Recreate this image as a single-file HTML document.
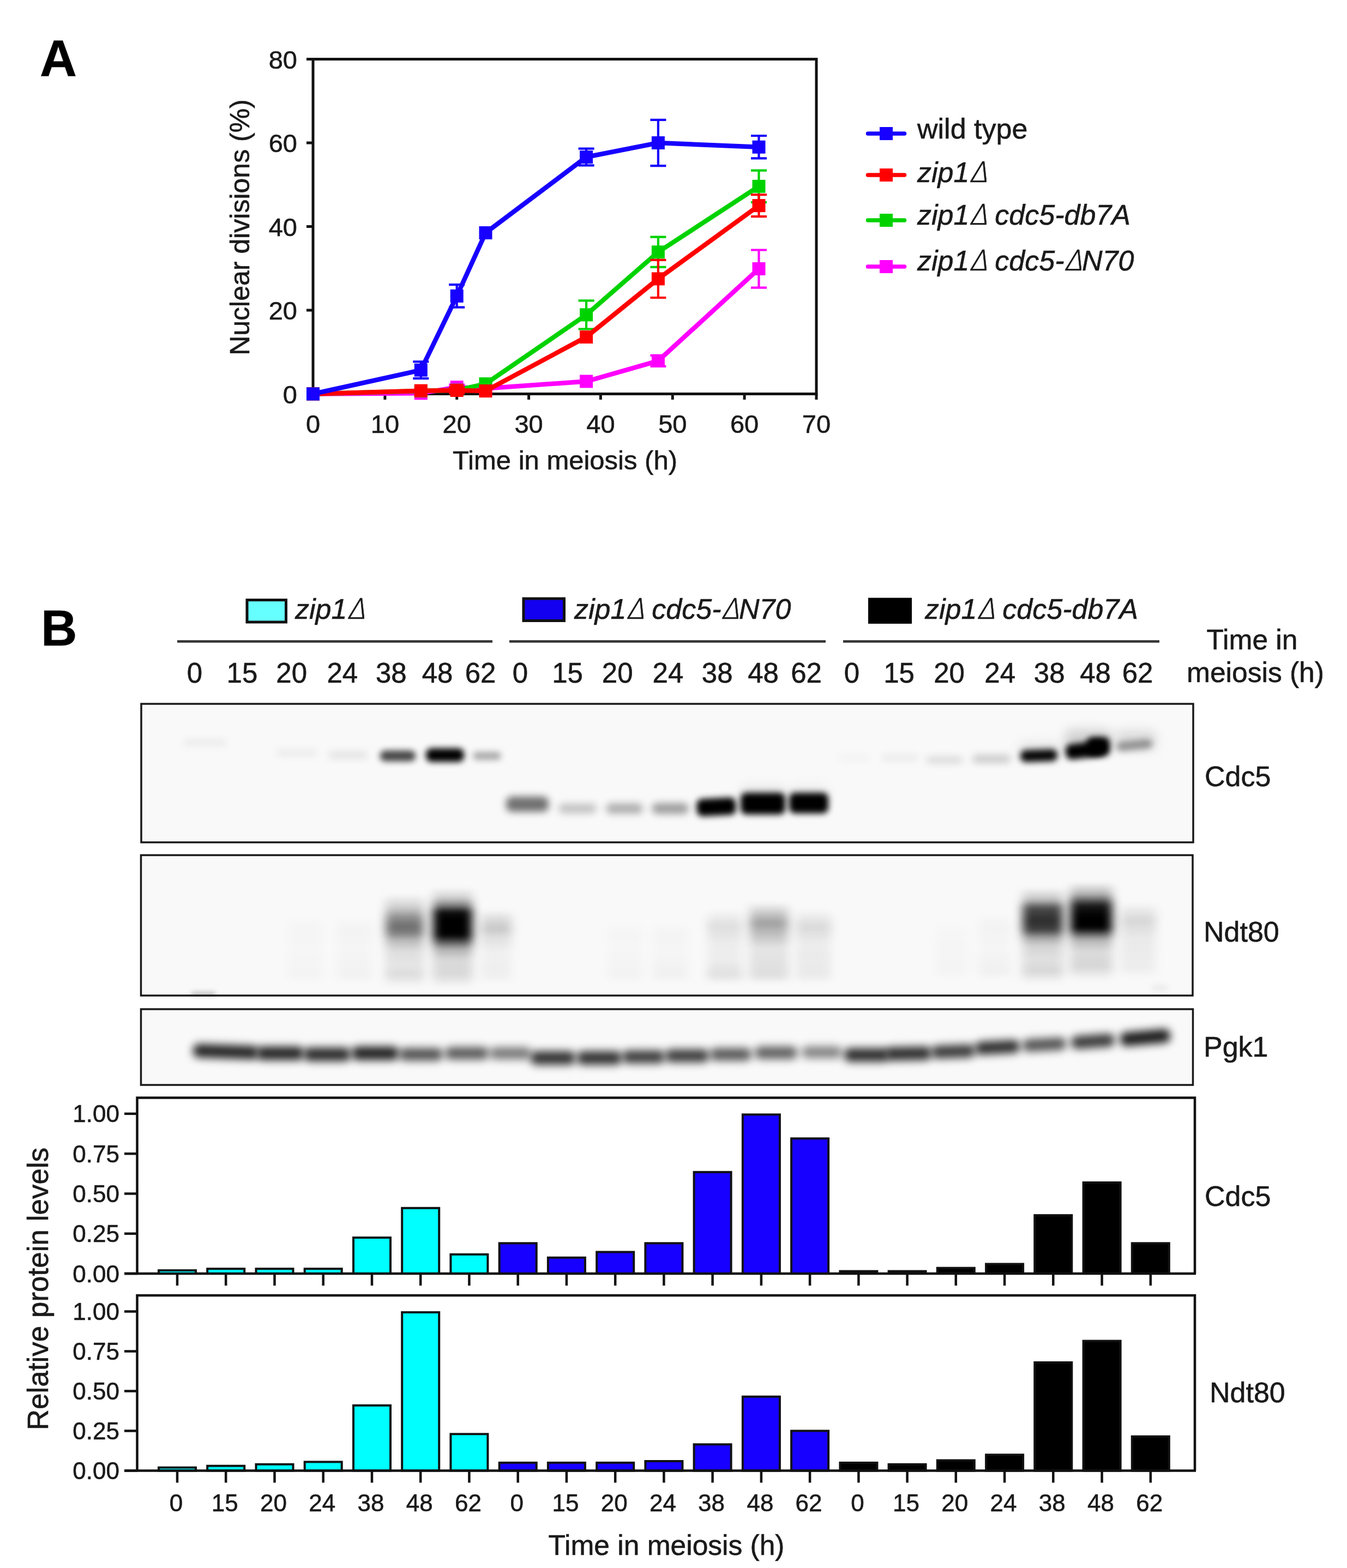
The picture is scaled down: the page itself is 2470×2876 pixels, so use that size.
<!DOCTYPE html>
<html><head><meta charset="utf-8"><title>Figure</title>
<style>
html,body{margin:0;padding:0;background:#fff;}
body{width:2470px;height:2876px;overflow:hidden;}
svg{display:block;}
text{font-family:'Liberation Sans', Arial, Helvetica, sans-serif;stroke:#1a1a1a;stroke-width:0.6px;}
</style></head>
<body>
<svg width="2470" height="2876" viewBox="0 0 2470 2876">
<rect width="2470" height="2876" fill="#fff"/>
<defs>
<clipPath id="clipA"><rect x="559" y="88.5" width="953" height="649"/></clipPath>
<filter id="b1" x="-50%" y="-150%" width="200%" height="400%"><feGaussianBlur stdDeviation="1"/></filter>
<filter id="b2" x="-50%" y="-150%" width="200%" height="400%"><feGaussianBlur stdDeviation="2"/></filter>
<filter id="b3" x="-50%" y="-150%" width="200%" height="400%"><feGaussianBlur stdDeviation="3"/></filter>
<filter id="b4" x="-50%" y="-150%" width="200%" height="400%"><feGaussianBlur stdDeviation="4"/></filter>
<filter id="b5" x="-50%" y="-150%" width="200%" height="400%"><feGaussianBlur stdDeviation="5"/></filter>
<filter id="b6" x="-50%" y="-150%" width="200%" height="400%"><feGaussianBlur stdDeviation="6"/></filter>
<filter id="b7" x="-50%" y="-150%" width="200%" height="400%"><feGaussianBlur stdDeviation="7"/></filter>
<filter id="b8" x="-50%" y="-150%" width="200%" height="400%"><feGaussianBlur stdDeviation="8"/></filter>
<filter id="b9" x="-50%" y="-150%" width="200%" height="400%"><feGaussianBlur stdDeviation="9"/></filter>
<filter id="b10" x="-50%" y="-150%" width="200%" height="400%"><feGaussianBlur stdDeviation="10"/></filter>
<filter id="b11" x="-50%" y="-150%" width="200%" height="400%"><feGaussianBlur stdDeviation="11"/></filter>
<filter id="b12" x="-50%" y="-150%" width="200%" height="400%"><feGaussianBlur stdDeviation="12"/></filter>
<filter id="bx" x="-50%" y="-20%" width="200%" height="140%"><feGaussianBlur stdDeviation="9 4"/></filter>
<linearGradient id="nd0" x1="0" y1="0" x2="0" y2="1"><stop offset="0.0000" stop-color="#000" stop-opacity="0.000"/><stop offset="0.2000" stop-color="#000" stop-opacity="0.018"/><stop offset="0.4800" stop-color="#000" stop-opacity="0.012"/><stop offset="0.8640" stop-color="#000" stop-opacity="0.020"/><stop offset="1.0000" stop-color="#000" stop-opacity="0.000"/></linearGradient>
<linearGradient id="nd1" x1="0" y1="0" x2="0" y2="1"><stop offset="0.0000" stop-color="#000" stop-opacity="0.000"/><stop offset="0.2000" stop-color="#000" stop-opacity="0.025"/><stop offset="0.4800" stop-color="#000" stop-opacity="0.015"/><stop offset="0.8640" stop-color="#000" stop-opacity="0.030"/><stop offset="1.0000" stop-color="#000" stop-opacity="0.000"/></linearGradient>
<linearGradient id="nd2" x1="0" y1="0" x2="0" y2="1"><stop offset="0.0000" stop-color="#000" stop-opacity="0.000"/><stop offset="0.1453" stop-color="#000" stop-opacity="0.180"/><stop offset="0.2616" stop-color="#000" stop-opacity="0.450"/><stop offset="0.3488" stop-color="#000" stop-opacity="0.560"/><stop offset="0.4186" stop-color="#000" stop-opacity="0.480"/><stop offset="0.4942" stop-color="#000" stop-opacity="0.250"/><stop offset="0.6105" stop-color="#000" stop-opacity="0.110"/><stop offset="0.7558" stop-color="#000" stop-opacity="0.080"/><stop offset="0.8605" stop-color="#000" stop-opacity="0.120"/><stop offset="0.9302" stop-color="#000" stop-opacity="0.050"/><stop offset="1.0000" stop-color="#000" stop-opacity="0.000"/></linearGradient>
<linearGradient id="nd3" x1="0" y1="0" x2="0" y2="1"><stop offset="0.0000" stop-color="#000" stop-opacity="0.000"/><stop offset="0.1087" stop-color="#000" stop-opacity="0.180"/><stop offset="0.1902" stop-color="#000" stop-opacity="0.550"/><stop offset="0.2446" stop-color="#000" stop-opacity="0.950"/><stop offset="0.3098" stop-color="#000" stop-opacity="1.000"/><stop offset="0.4728" stop-color="#000" stop-opacity="1.000"/><stop offset="0.5326" stop-color="#000" stop-opacity="0.700"/><stop offset="0.6087" stop-color="#000" stop-opacity="0.300"/><stop offset="0.7174" stop-color="#000" stop-opacity="0.130"/><stop offset="0.8696" stop-color="#000" stop-opacity="0.130"/><stop offset="0.9348" stop-color="#000" stop-opacity="0.060"/><stop offset="1.0000" stop-color="#000" stop-opacity="0.000"/></linearGradient>
<linearGradient id="nd4" x1="0" y1="0" x2="0" y2="1"><stop offset="0.0000" stop-color="#000" stop-opacity="0.000"/><stop offset="0.1460" stop-color="#000" stop-opacity="0.130"/><stop offset="0.2628" stop-color="#000" stop-opacity="0.200"/><stop offset="0.3796" stop-color="#000" stop-opacity="0.100"/><stop offset="0.5620" stop-color="#000" stop-opacity="0.035"/><stop offset="0.8759" stop-color="#000" stop-opacity="0.040"/><stop offset="1.0000" stop-color="#000" stop-opacity="0.000"/></linearGradient>
<linearGradient id="nd5" x1="0" y1="0" x2="0" y2="1"><stop offset="0.0000" stop-color="#000" stop-opacity="0.000"/><stop offset="0.1913" stop-color="#000" stop-opacity="0.015"/><stop offset="0.4348" stop-color="#000" stop-opacity="0.012"/><stop offset="0.8522" stop-color="#000" stop-opacity="0.025"/><stop offset="1.0000" stop-color="#000" stop-opacity="0.000"/></linearGradient>
<linearGradient id="nd6" x1="0" y1="0" x2="0" y2="1"><stop offset="0.0000" stop-color="#000" stop-opacity="0.000"/><stop offset="0.1913" stop-color="#000" stop-opacity="0.020"/><stop offset="0.5217" stop-color="#000" stop-opacity="0.015"/><stop offset="0.8522" stop-color="#000" stop-opacity="0.035"/><stop offset="1.0000" stop-color="#000" stop-opacity="0.000"/></linearGradient>
<linearGradient id="nd7" x1="0" y1="0" x2="0" y2="1"><stop offset="0.0000" stop-color="#000" stop-opacity="0.000"/><stop offset="0.2263" stop-color="#000" stop-opacity="0.110"/><stop offset="0.4526" stop-color="#000" stop-opacity="0.050"/><stop offset="0.6715" stop-color="#000" stop-opacity="0.045"/><stop offset="0.8759" stop-color="#000" stop-opacity="0.100"/><stop offset="1.0000" stop-color="#000" stop-opacity="0.000"/></linearGradient>
<linearGradient id="nd8" x1="0" y1="0" x2="0" y2="1"><stop offset="0.0000" stop-color="#000" stop-opacity="0.000"/><stop offset="0.1533" stop-color="#000" stop-opacity="0.220"/><stop offset="0.2533" stop-color="#000" stop-opacity="0.360"/><stop offset="0.3667" stop-color="#000" stop-opacity="0.250"/><stop offset="0.5667" stop-color="#000" stop-opacity="0.080"/><stop offset="0.8867" stop-color="#000" stop-opacity="0.110"/><stop offset="1.0000" stop-color="#000" stop-opacity="0.000"/></linearGradient>
<linearGradient id="nd9" x1="0" y1="0" x2="0" y2="1"><stop offset="0.0000" stop-color="#000" stop-opacity="0.000"/><stop offset="0.2336" stop-color="#000" stop-opacity="0.130"/><stop offset="0.4526" stop-color="#000" stop-opacity="0.050"/><stop offset="0.8759" stop-color="#000" stop-opacity="0.060"/><stop offset="1.0000" stop-color="#000" stop-opacity="0.000"/></linearGradient>
<linearGradient id="nd10" x1="0" y1="0" x2="0" y2="1"><stop offset="0.0000" stop-color="#000" stop-opacity="0.000"/><stop offset="0.1852" stop-color="#000" stop-opacity="0.012"/><stop offset="0.8519" stop-color="#000" stop-opacity="0.020"/><stop offset="1.0000" stop-color="#000" stop-opacity="0.000"/></linearGradient>
<linearGradient id="nd11" x1="0" y1="0" x2="0" y2="1"><stop offset="0.0000" stop-color="#000" stop-opacity="0.000"/><stop offset="0.1951" stop-color="#000" stop-opacity="0.025"/><stop offset="0.5285" stop-color="#000" stop-opacity="0.015"/><stop offset="0.8699" stop-color="#000" stop-opacity="0.035"/><stop offset="1.0000" stop-color="#000" stop-opacity="0.000"/></linearGradient>
<linearGradient id="nd12" x1="0" y1="0" x2="0" y2="1"><stop offset="0.0000" stop-color="#000" stop-opacity="0.000"/><stop offset="0.1236" stop-color="#000" stop-opacity="0.220"/><stop offset="0.2135" stop-color="#000" stop-opacity="0.700"/><stop offset="0.3371" stop-color="#000" stop-opacity="0.820"/><stop offset="0.4326" stop-color="#000" stop-opacity="0.750"/><stop offset="0.5225" stop-color="#000" stop-opacity="0.320"/><stop offset="0.6011" stop-color="#000" stop-opacity="0.150"/><stop offset="0.7416" stop-color="#000" stop-opacity="0.100"/><stop offset="0.8652" stop-color="#000" stop-opacity="0.140"/><stop offset="0.9438" stop-color="#000" stop-opacity="0.040"/><stop offset="1.0000" stop-color="#000" stop-opacity="0.000"/></linearGradient>
<linearGradient id="nd13" x1="0" y1="0" x2="0" y2="1"><stop offset="0.0000" stop-color="#000" stop-opacity="0.000"/><stop offset="0.1209" stop-color="#000" stop-opacity="0.280"/><stop offset="0.2363" stop-color="#000" stop-opacity="0.900"/><stop offset="0.3407" stop-color="#000" stop-opacity="1.000"/><stop offset="0.4615" stop-color="#000" stop-opacity="1.000"/><stop offset="0.5165" stop-color="#000" stop-opacity="0.650"/><stop offset="0.5824" stop-color="#000" stop-opacity="0.270"/><stop offset="0.6978" stop-color="#000" stop-opacity="0.120"/><stop offset="0.8571" stop-color="#000" stop-opacity="0.140"/><stop offset="0.9451" stop-color="#000" stop-opacity="0.040"/><stop offset="1.0000" stop-color="#000" stop-opacity="0.000"/></linearGradient>
<linearGradient id="nd14" x1="0" y1="0" x2="0" y2="1"><stop offset="0.0000" stop-color="#000" stop-opacity="0.000"/><stop offset="0.2357" stop-color="#000" stop-opacity="0.140"/><stop offset="0.4643" stop-color="#000" stop-opacity="0.060"/><stop offset="0.8643" stop-color="#000" stop-opacity="0.045"/><stop offset="1.0000" stop-color="#000" stop-opacity="0.000"/></linearGradient>
</defs>
<text x="73" y="139.5" font-size="94" font-weight="bold" fill="#000">A</text>
<rect x="574" y="108.5" width="923" height="614" fill="none" stroke="#111" stroke-width="5"/>
<line x1="562" y1="722.5" x2="574" y2="722.5" stroke="#111" stroke-width="5"/>
<text x="545" y="739.5" font-size="47" text-anchor="end" fill="#1a1a1a">0</text>
<line x1="562" y1="569" x2="574" y2="569" stroke="#111" stroke-width="5"/>
<text x="545" y="586" font-size="47" text-anchor="end" fill="#1a1a1a">20</text>
<line x1="562" y1="415.5" x2="574" y2="415.5" stroke="#111" stroke-width="5"/>
<text x="545" y="432.5" font-size="47" text-anchor="end" fill="#1a1a1a">40</text>
<line x1="562" y1="262" x2="574" y2="262" stroke="#111" stroke-width="5"/>
<text x="545" y="279" font-size="47" text-anchor="end" fill="#1a1a1a">60</text>
<line x1="562" y1="108.5" x2="574" y2="108.5" stroke="#111" stroke-width="5"/>
<text x="545" y="125.5" font-size="47" text-anchor="end" fill="#1a1a1a">80</text>
<line x1="574" y1="722.5" x2="574" y2="733" stroke="#111" stroke-width="5"/>
<text x="574" y="794" font-size="47" text-anchor="middle" fill="#1a1a1a">0</text>
<line x1="705.9" y1="722.5" x2="705.9" y2="733" stroke="#111" stroke-width="5"/>
<text x="705.9" y="794" font-size="47" text-anchor="middle" fill="#1a1a1a">10</text>
<line x1="837.7" y1="722.5" x2="837.7" y2="733" stroke="#111" stroke-width="5"/>
<text x="837.7" y="794" font-size="47" text-anchor="middle" fill="#1a1a1a">20</text>
<line x1="969.6" y1="722.5" x2="969.6" y2="733" stroke="#111" stroke-width="5"/>
<text x="969.6" y="794" font-size="47" text-anchor="middle" fill="#1a1a1a">30</text>
<line x1="1101.4" y1="722.5" x2="1101.4" y2="733" stroke="#111" stroke-width="5"/>
<text x="1101.4" y="794" font-size="47" text-anchor="middle" fill="#1a1a1a">40</text>
<line x1="1233.3" y1="722.5" x2="1233.3" y2="733" stroke="#111" stroke-width="5"/>
<text x="1233.3" y="794" font-size="47" text-anchor="middle" fill="#1a1a1a">50</text>
<line x1="1365.1" y1="722.5" x2="1365.1" y2="733" stroke="#111" stroke-width="5"/>
<text x="1365.1" y="794" font-size="47" text-anchor="middle" fill="#1a1a1a">60</text>
<line x1="1497" y1="722.5" x2="1497" y2="733" stroke="#111" stroke-width="5"/>
<text x="1497" y="794" font-size="47" text-anchor="middle" fill="#1a1a1a">70</text>
<text x="1036" y="861" font-size="49" text-anchor="middle" fill="#1a1a1a">Time in meiosis (h)</text>
<text transform="translate(457,417) rotate(-90)" font-size="50" text-anchor="middle" fill="#1a1a1a">Nuclear divisions (%)</text>
<g clip-path="url(#clipA)">
<polyline points="574,722.5 771.8,721.3 837.7,710.2 890.5,712.5 1075.1,699.5 1206.9,661.9 1391.5,493" fill="none" stroke="#ff00ff" stroke-width="8.5" stroke-linejoin="miter"/>
<rect x="562" y="710.5" width="24" height="24" fill="#ff00ff"/>
<rect x="759.8" y="709.3" width="24" height="24" fill="#ff00ff"/>
<path d="M837.7 705.6V714.8M823.2 705.6H852.2M823.2 714.8H852.2" stroke="#ff00ff" stroke-width="4.2" fill="none"/>
<rect x="825.7" y="698.2" width="24" height="24" fill="#ff00ff"/>
<rect x="878.5" y="700.5" width="24" height="24" fill="#ff00ff"/>
<rect x="1063.1" y="687.5" width="24" height="24" fill="#ff00ff"/>
<path d="M1206.9 651.9V671.8M1192.4 651.9H1221.4M1192.4 671.8H1221.4" stroke="#ff00ff" stroke-width="4.2" fill="none"/>
<rect x="1194.9" y="649.9" width="24" height="24" fill="#ff00ff"/>
<path d="M1391.5 458.5V527.6M1377 458.5H1406M1377 527.6H1406" stroke="#ff00ff" stroke-width="4.2" fill="none"/>
<rect x="1379.5" y="481" width="24" height="24" fill="#ff00ff"/>
<polyline points="574,722.5 771.8,717.1 837.7,715.6 890.5,704.1 1075.1,577.4 1206.9,462.3 1391.5,341.8" fill="none" stroke="#00d200" stroke-width="8.5" stroke-linejoin="miter"/>
<rect x="562" y="710.5" width="24" height="24" fill="#00d200"/>
<rect x="759.8" y="705.1" width="24" height="24" fill="#00d200"/>
<rect x="825.7" y="703.6" width="24" height="24" fill="#00d200"/>
<rect x="878.5" y="692.1" width="24" height="24" fill="#00d200"/>
<path d="M1075.1 551.3V603.5M1060.6 551.3H1089.6M1060.6 603.5H1089.6" stroke="#00d200" stroke-width="4.2" fill="none"/>
<rect x="1063.1" y="565.4" width="24" height="24" fill="#00d200"/>
<path d="M1206.9 434.7V489.9M1192.4 434.7H1221.4M1192.4 489.9H1221.4" stroke="#00d200" stroke-width="4.2" fill="none"/>
<rect x="1194.9" y="450.3" width="24" height="24" fill="#00d200"/>
<path d="M1391.5 312.7V371M1377 312.7H1406M1377 371H1406" stroke="#00d200" stroke-width="4.2" fill="none"/>
<rect x="1379.5" y="329.8" width="24" height="24" fill="#00d200"/>
<polyline points="574,722.5 771.8,716.7 837.7,716 890.5,717.1 1075.1,618.1 1206.9,511.4 1391.5,377.1" fill="none" stroke="#ff0000" stroke-width="8.5" stroke-linejoin="miter"/>
<rect x="562" y="710.5" width="24" height="24" fill="#ff0000"/>
<rect x="759.8" y="704.7" width="24" height="24" fill="#ff0000"/>
<path d="M837.7 710.6V721.3M823.2 710.6H852.2M823.2 721.3H852.2" stroke="#ff0000" stroke-width="4.2" fill="none"/>
<rect x="825.7" y="704" width="24" height="24" fill="#ff0000"/>
<rect x="878.5" y="705.1" width="24" height="24" fill="#ff0000"/>
<rect x="1063.1" y="606.1" width="24" height="24" fill="#ff0000"/>
<path d="M1206.9 476.9V546M1192.4 476.9H1221.4M1192.4 546H1221.4" stroke="#ff0000" stroke-width="4.2" fill="none"/>
<rect x="1194.9" y="499.4" width="24" height="24" fill="#ff0000"/>
<path d="M1391.5 357.2V397.1M1377 357.2H1406M1377 397.1H1406" stroke="#ff0000" stroke-width="4.2" fill="none"/>
<rect x="1379.5" y="365.1" width="24" height="24" fill="#ff0000"/>
<polyline points="574,722.5 771.8,678.8 837.7,542.9 890.5,427 1075.1,288.1 1206.9,262 1391.5,269.7" fill="none" stroke="#1700ff" stroke-width="8.5" stroke-linejoin="miter"/>
<rect x="562" y="710.5" width="24" height="24" fill="#1700ff"/>
<path d="M771.8 663.4V694.1M757.3 663.4H786.3M757.3 694.1H786.3" stroke="#1700ff" stroke-width="4.2" fill="none"/>
<rect x="759.8" y="666.8" width="24" height="24" fill="#1700ff"/>
<path d="M837.7 522.2V563.6M823.2 522.2H852.2M823.2 563.6H852.2" stroke="#1700ff" stroke-width="4.2" fill="none"/>
<rect x="825.7" y="530.9" width="24" height="24" fill="#1700ff"/>
<rect x="878.5" y="415" width="24" height="24" fill="#1700ff"/>
<path d="M1075.1 272.7V303.4M1060.6 272.7H1089.6M1060.6 303.4H1089.6" stroke="#1700ff" stroke-width="4.2" fill="none"/>
<rect x="1063.1" y="276.1" width="24" height="24" fill="#1700ff"/>
<path d="M1206.9 219.8V304.2M1192.4 219.8H1221.4M1192.4 304.2H1221.4" stroke="#1700ff" stroke-width="4.2" fill="none"/>
<rect x="1194.9" y="250" width="24" height="24" fill="#1700ff"/>
<path d="M1391.5 249V290.4M1377 249H1406M1377 290.4H1406" stroke="#1700ff" stroke-width="4.2" fill="none"/>
<rect x="1379.5" y="257.7" width="24" height="24" fill="#1700ff"/>
</g>
<line x1="1591.5" y1="245" x2="1658.5" y2="245" stroke="#1700ff" stroke-width="7.5" stroke-linecap="round"/>
<rect x="1613" y="233" width="24" height="24" fill="#1700ff"/>
<text x="1682" y="254" font-size="52"  fill="#1a1a1a">wild type</text>
<line x1="1591.5" y1="321" x2="1658.5" y2="321" stroke="#ff0000" stroke-width="7.5" stroke-linecap="round"/>
<rect x="1613" y="309" width="24" height="24" fill="#ff0000"/>
<text x="1682" y="334" font-size="52" font-style="italic" fill="#1a1a1a">zip1<tspan font-family="Noto Sans CJK JP" font-weight="300">Δ</tspan></text>
<line x1="1591.5" y1="404" x2="1658.5" y2="404" stroke="#00d200" stroke-width="7.5" stroke-linecap="round"/>
<rect x="1613" y="392" width="24" height="24" fill="#00d200"/>
<text x="1682" y="411.5" font-size="52" font-style="italic" fill="#1a1a1a">zip1<tspan font-family="Noto Sans CJK JP" font-weight="300">Δ</tspan> cdc5-db7A</text>
<line x1="1591.5" y1="489" x2="1658.5" y2="489" stroke="#ff00ff" stroke-width="7.5" stroke-linecap="round"/>
<rect x="1613" y="477" width="24" height="24" fill="#ff00ff"/>
<text x="1682" y="496" font-size="52" font-style="italic" fill="#1a1a1a">zip1<tspan font-family="Noto Sans CJK JP" font-weight="300">Δ</tspan> cdc5-<tspan font-family="Noto Sans CJK JP" font-weight="300">Δ</tspan>N70</text>
<text x="75" y="1184" font-size="92" font-weight="bold" fill="#000">B</text>
<rect x="453" y="1100.5" width="71.5" height="40.5" fill="#66ffff" stroke="#111" stroke-width="5"/>
<text x="541" y="1135" font-size="52" font-style="italic" fill="#1a1a1a">zip1<tspan font-family="Noto Sans CJK JP" font-weight="300">Δ</tspan></text>
<rect x="960" y="1098" width="74.5" height="40.5" fill="#1400f0" stroke="#111" stroke-width="5"/>
<text x="1053" y="1135" font-size="52" font-style="italic" fill="#1a1a1a">zip1<tspan font-family="Noto Sans CJK JP" font-weight="300">Δ</tspan> cdc5-<tspan font-family="Noto Sans CJK JP" font-weight="300">Δ</tspan>N70</text>
<rect x="1594.5" y="1099" width="75" height="42.5" fill="#000" stroke="#000" stroke-width="5"/>
<text x="1696" y="1135" font-size="52" font-style="italic" fill="#1a1a1a">zip1<tspan font-family="Noto Sans CJK JP" font-weight="300">Δ</tspan> cdc5-db7A</text>
<line x1="325" y1="1176.5" x2="903" y2="1176.5" stroke="#333" stroke-width="4.5"/>
<line x1="934" y1="1176.5" x2="1514" y2="1176.5" stroke="#333" stroke-width="4.5"/>
<line x1="1546" y1="1176.5" x2="2126" y2="1176.5" stroke="#333" stroke-width="4.5"/>
<text x="356.9" y="1252" font-size="51" text-anchor="middle" fill="#1a1a1a">0</text>
<text x="443.9" y="1252" font-size="51" text-anchor="middle" fill="#1a1a1a">15</text>
<text x="534.7" y="1252" font-size="51" text-anchor="middle" fill="#1a1a1a">20</text>
<text x="627.8" y="1252" font-size="51" text-anchor="middle" fill="#1a1a1a">24</text>
<text x="717.3" y="1252" font-size="51" text-anchor="middle" fill="#1a1a1a">38</text>
<text x="802" y="1252" font-size="51" text-anchor="middle" fill="#1a1a1a">48</text>
<text x="881" y="1252" font-size="51" text-anchor="middle" fill="#1a1a1a">62</text>
<text x="954" y="1252" font-size="51" text-anchor="middle" fill="#1a1a1a">0</text>
<text x="1040.5" y="1252" font-size="51" text-anchor="middle" fill="#1a1a1a">15</text>
<text x="1132.2" y="1252" font-size="51" text-anchor="middle" fill="#1a1a1a">20</text>
<text x="1224.9" y="1252" font-size="51" text-anchor="middle" fill="#1a1a1a">24</text>
<text x="1315.2" y="1252" font-size="51" text-anchor="middle" fill="#1a1a1a">38</text>
<text x="1399.6" y="1252" font-size="51" text-anchor="middle" fill="#1a1a1a">48</text>
<text x="1478.5" y="1252" font-size="51" text-anchor="middle" fill="#1a1a1a">62</text>
<text x="1561.9" y="1252" font-size="51" text-anchor="middle" fill="#1a1a1a">0</text>
<text x="1648.6" y="1252" font-size="51" text-anchor="middle" fill="#1a1a1a">15</text>
<text x="1740.5" y="1252" font-size="51" text-anchor="middle" fill="#1a1a1a">20</text>
<text x="1833.7" y="1252" font-size="51" text-anchor="middle" fill="#1a1a1a">24</text>
<text x="1924.2" y="1252" font-size="51" text-anchor="middle" fill="#1a1a1a">38</text>
<text x="2008.5" y="1252" font-size="51" text-anchor="middle" fill="#1a1a1a">48</text>
<text x="2086" y="1252" font-size="51" text-anchor="middle" fill="#1a1a1a">62</text>
<text x="2296" y="1190.5" font-size="51.5" text-anchor="middle" fill="#1a1a1a">Time in</text>
<text x="2302" y="1251" font-size="51.5" text-anchor="middle" fill="#1a1a1a">meiosis (h)</text>
<rect x="260.5" y="1292.5" width="1926" height="251" fill="#f9f9f9"/>
<rect x="336" y="1356" width="80" height="12" rx="6" fill="#000" fill-opacity="0.060" filter="url(#b7)"/>
<rect x="506" y="1375" width="76" height="12" rx="6" fill="#000" fill-opacity="0.060" filter="url(#b7)"/>
<rect x="602" y="1378.5" width="72" height="13" rx="6.5" fill="#000" fill-opacity="0.090" filter="url(#b7)"/>
<rect x="696.5" y="1376.5" width="66" height="20" rx="10" fill="#000" fill-opacity="0.720" filter="url(#b6)"/>
<rect x="781" y="1372.5" width="70" height="25" rx="10" fill="#000" fill-opacity="1.000" filter="url(#b6)"/>
<rect x="867" y="1379" width="52" height="15" rx="7.5" fill="#000" fill-opacity="0.320" filter="url(#b6)"/>
<rect x="928" y="1461" width="78" height="28" rx="10" fill="#000" fill-opacity="0.550" filter="url(#b7)"/>
<rect x="1024" y="1474" width="70" height="18" rx="9" fill="#000" fill-opacity="0.220" filter="url(#b7)"/>
<rect x="1111" y="1473.5" width="68" height="19" rx="9.5" fill="#000" fill-opacity="0.300" filter="url(#b7)"/>
<rect x="1195" y="1473" width="68" height="20" rx="10" fill="#000" fill-opacity="0.370" filter="url(#b7)"/>
<rect x="1277.5" y="1464" width="72" height="32" rx="10" fill="#000" fill-opacity="1.000" filter="url(#b6)" transform="rotate(-3 1313.5 1480)"/>
<rect x="1358" y="1454" width="82" height="40" rx="10" fill="#000" fill-opacity="1.000" filter="url(#b6)"/>
<rect x="1447" y="1454" width="72" height="38" rx="10" fill="#000" fill-opacity="1.000" filter="url(#b6)"/>
<rect x="1537" y="1385" width="58" height="10" rx="5" fill="#000" fill-opacity="0.030" filter="url(#b7)"/>
<rect x="1616" y="1384" width="68" height="12" rx="6" fill="#000" fill-opacity="0.060" filter="url(#b7)"/>
<rect x="1698" y="1387.5" width="68" height="13" rx="6.5" fill="#000" fill-opacity="0.120" filter="url(#b7)"/>
<rect x="1783" y="1385" width="70" height="14" rx="7" fill="#000" fill-opacity="0.200" filter="url(#b7)"/>
<rect x="1868" y="1361" width="74" height="34" rx="10" fill="#000" fill-opacity="0.080" filter="url(#b10)"/>
<rect x="1953" y="1338" width="84" height="44" rx="10" fill="#000" fill-opacity="0.160" filter="url(#b10)"/>
<rect x="2046" y="1340" width="74" height="36" rx="10" fill="#000" fill-opacity="0.120" filter="url(#b10)"/>
<rect x="1358" y="1441" width="82" height="34" rx="10" fill="#000" fill-opacity="0.070" filter="url(#b10)"/>
<rect x="1447" y="1441" width="72" height="34" rx="10" fill="#000" fill-opacity="0.050" filter="url(#b10)"/>
<rect x="1871" y="1375" width="68" height="22" rx="10" fill="#000" fill-opacity="0.970" filter="url(#b6)" transform="rotate(-2 1905 1386)"/>
<rect x="1954" y="1362" width="72" height="28" rx="10" fill="#000" fill-opacity="1.000" filter="url(#b6)" transform="rotate(-7 1990 1376)"/>
<rect x="1993" y="1352" width="42" height="34" rx="10" fill="#000" fill-opacity="1.000" filter="url(#b6)"/>
<rect x="2047" y="1358.5" width="66" height="17" rx="8.5" fill="#000" fill-opacity="0.350" filter="url(#b6)" transform="rotate(-6 2080 1367)"/>
<rect x="259" y="1291" width="1929" height="254" fill="none" stroke="#1a1a1a" stroke-width="3.5"/>
<rect x="260" y="1570" width="1926" height="254.5" fill="#f9f9f9"/>
<rect x="528" y="1680" width="64" height="125" fill="url(#nd0)" filter="url(#bx)"/>
<rect x="618" y="1680" width="64" height="125" fill="url(#nd1)" filter="url(#bx)"/>
<rect x="707" y="1640" width="70" height="172" fill="url(#nd2)" filter="url(#bx)"/>
<rect x="794" y="1628" width="72" height="184" fill="url(#nd3)" filter="url(#bx)"/>
<rect x="882" y="1668" width="56" height="137" fill="url(#nd4)" filter="url(#bx)"/>
<rect x="1114" y="1690" width="64" height="115" fill="url(#nd5)" filter="url(#bx)"/>
<rect x="1197" y="1690" width="64" height="115" fill="url(#nd6)" filter="url(#bx)"/>
<rect x="1297" y="1668" width="64" height="137" fill="url(#nd7)" filter="url(#bx)"/>
<rect x="1375" y="1655" width="70" height="150" fill="url(#nd8)" filter="url(#bx)"/>
<rect x="1460" y="1668" width="64" height="137" fill="url(#nd9)" filter="url(#bx)"/>
<rect x="1716" y="1690" width="58" height="108" fill="url(#nd10)" filter="url(#bx)"/>
<rect x="1794" y="1675" width="60" height="123" fill="url(#nd11)" filter="url(#bx)"/>
<rect x="1875" y="1628" width="74" height="178" fill="url(#nd12)" filter="url(#bx)"/>
<rect x="1962.5" y="1618" width="77" height="182" fill="url(#nd13)" filter="url(#bx)"/>
<rect x="2055" y="1655" width="64" height="140" fill="url(#nd14)" filter="url(#bx)"/>
<rect x="350.5" y="1820" width="45" height="6" rx="3" fill="#000" fill-opacity="0.300" filter="url(#b4)"/>
<rect x="2112" y="1808" width="30" height="8" rx="4" fill="#000" fill-opacity="0.080" filter="url(#b6)"/>
<rect x="258.5" y="1568.5" width="1928.5" height="257.5" fill="none" stroke="#1a1a1a" stroke-width="3.5"/>
<rect x="260" y="1853" width="1926" height="135.5" fill="#f9f9f9"/>
<rect x="354" y="1916.5" width="120" height="25" rx="10" fill="#000" fill-opacity="0.860" filter="url(#b8)" transform="rotate(2 414 1929)"/>
<rect x="471" y="1919.5" width="86" height="25" rx="10" fill="#000" fill-opacity="0.860" filter="url(#b8)"/>
<rect x="557" y="1921.5" width="86" height="25" rx="10" fill="#000" fill-opacity="0.830" filter="url(#b8)"/>
<rect x="645" y="1919.5" width="86" height="25" rx="10" fill="#000" fill-opacity="0.870" filter="url(#b8)"/>
<rect x="732" y="1922.5" width="80" height="23" rx="10" fill="#000" fill-opacity="0.680" filter="url(#b8)"/>
<rect x="816" y="1920.5" width="80" height="23" rx="10" fill="#000" fill-opacity="0.640" filter="url(#b8)"/>
<rect x="898" y="1921" width="76" height="22" rx="10" fill="#000" fill-opacity="0.520" filter="url(#b8)"/>
<rect x="973" y="1928.1" width="82" height="25" rx="10" fill="#000" fill-opacity="0.800" filter="url(#b8)"/>
<rect x="1058" y="1928.1" width="82" height="25" rx="10" fill="#000" fill-opacity="0.800" filter="url(#b8)"/>
<rect x="1141" y="1926.5" width="78" height="24" rx="10" fill="#000" fill-opacity="0.760" filter="url(#b8)"/>
<rect x="1220" y="1924.4" width="80" height="24" rx="10" fill="#000" fill-opacity="0.760" filter="url(#b8)"/>
<rect x="1302" y="1922.5" width="76" height="23" rx="10" fill="#000" fill-opacity="0.650" filter="url(#b8)"/>
<rect x="1384" y="1919.5" width="78" height="23" rx="10" fill="#000" fill-opacity="0.620" filter="url(#b8)"/>
<rect x="1470" y="1919" width="74" height="22" rx="10" fill="#000" fill-opacity="0.470" filter="url(#b8)"/>
<rect x="1548" y="1922.5" width="82" height="25" rx="10" fill="#000" fill-opacity="0.820" filter="url(#b8)"/>
<rect x="1624" y="1920" width="84" height="25" rx="10" fill="#000" fill-opacity="0.820" filter="url(#b8)" transform="rotate(-1 1666 1932.5)"/>
<rect x="1708" y="1916.7" width="80" height="24" rx="10" fill="#000" fill-opacity="0.770" filter="url(#b8)" transform="rotate(-2 1748 1928.7)"/>
<rect x="1788" y="1909" width="82" height="24" rx="10" fill="#000" fill-opacity="0.820" filter="url(#b8)" transform="rotate(-3 1829 1921)"/>
<rect x="1875" y="1904.5" width="80" height="23" rx="10" fill="#000" fill-opacity="0.670" filter="url(#b8)" transform="rotate(-3 1915 1916)"/>
<rect x="1964" y="1898" width="80" height="24" rx="10" fill="#000" fill-opacity="0.770" filter="url(#b8)" transform="rotate(-4 2004 1910)"/>
<rect x="2054" y="1890.5" width="92" height="25" rx="10" fill="#000" fill-opacity="0.900" filter="url(#b8)" transform="rotate(-5 2100 1903)"/>
<rect x="258.5" y="1851" width="1929" height="139" fill="none" stroke="#1a1a1a" stroke-width="3.5"/>
<text x="2209" y="1441.5" font-size="52" fill="#1a1a1a">Cdc5</text>
<text x="2207" y="1726.5" font-size="52" fill="#1a1a1a">Ndt80</text>
<text x="2207" y="1938" font-size="52" fill="#1a1a1a">Pgk1</text>
<rect x="291" y="2330.1" width="68" height="5.9" fill="#00ffff" stroke="#111" stroke-width="4"/>
<rect x="380.2" y="2327.2" width="68" height="8.8" fill="#00ffff" stroke="#111" stroke-width="4"/>
<rect x="469.5" y="2327.2" width="68" height="8.8" fill="#00ffff" stroke="#111" stroke-width="4"/>
<rect x="558.7" y="2327.2" width="68" height="8.8" fill="#00ffff" stroke="#111" stroke-width="4"/>
<rect x="648" y="2270" width="68" height="66" fill="#00ffff" stroke="#111" stroke-width="4"/>
<rect x="737.2" y="2215.8" width="68" height="120.2" fill="#00ffff" stroke="#111" stroke-width="4"/>
<rect x="826.4" y="2300.8" width="68" height="35.2" fill="#00ffff" stroke="#111" stroke-width="4"/>
<rect x="915.7" y="2280.3" width="68" height="55.7" fill="#1700ff" stroke="#111" stroke-width="4"/>
<rect x="1004.9" y="2306.7" width="68" height="29.3" fill="#1700ff" stroke="#111" stroke-width="4"/>
<rect x="1094.2" y="2296.4" width="68" height="39.6" fill="#1700ff" stroke="#111" stroke-width="4"/>
<rect x="1183.4" y="2280.3" width="68" height="55.7" fill="#1700ff" stroke="#111" stroke-width="4"/>
<rect x="1272.6" y="2149.8" width="68" height="186.2" fill="#1700ff" stroke="#111" stroke-width="4"/>
<rect x="1361.9" y="2044.3" width="68" height="291.7" fill="#1700ff" stroke="#111" stroke-width="4"/>
<rect x="1451.1" y="2088.2" width="68" height="247.8" fill="#1700ff" stroke="#111" stroke-width="4"/>
<rect x="1540.4" y="2331.6" width="68" height="4.4" fill="#000" stroke="#111" stroke-width="4"/>
<rect x="1629.6" y="2331.6" width="68" height="4.4" fill="#000" stroke="#111" stroke-width="4"/>
<rect x="1718.8" y="2325.7" width="68" height="10.3" fill="#000" stroke="#111" stroke-width="4"/>
<rect x="1808.1" y="2318.4" width="68" height="17.6" fill="#000" stroke="#111" stroke-width="4"/>
<rect x="1897.3" y="2229" width="68" height="107" fill="#000" stroke="#111" stroke-width="4"/>
<rect x="1986.6" y="2168.9" width="68" height="167.1" fill="#000" stroke="#111" stroke-width="4"/>
<rect x="2075.8" y="2280.3" width="68" height="55.7" fill="#000" stroke="#111" stroke-width="4"/>
<path d="M251.5 2336 V2013.5 H2191 V2336" fill="none" stroke="#111" stroke-width="4.5"/>
<line x1="228" y1="2336" x2="2193" y2="2336" stroke="#111" stroke-width="4.5"/>
<line x1="228" y1="2336" x2="252" y2="2336" stroke="#111" stroke-width="4.5"/>
<text x="219" y="2351.5" font-size="44" text-anchor="end" fill="#1a1a1a">0.00</text>
<line x1="228" y1="2262.7" x2="252" y2="2262.7" stroke="#111" stroke-width="4.5"/>
<text x="219" y="2278.2" font-size="44" text-anchor="end" fill="#1a1a1a">0.25</text>
<line x1="228" y1="2189.4" x2="252" y2="2189.4" stroke="#111" stroke-width="4.5"/>
<text x="219" y="2204.9" font-size="44" text-anchor="end" fill="#1a1a1a">0.50</text>
<line x1="228" y1="2116.1" x2="252" y2="2116.1" stroke="#111" stroke-width="4.5"/>
<text x="219" y="2131.6" font-size="44" text-anchor="end" fill="#1a1a1a">0.75</text>
<line x1="228" y1="2042.8" x2="252" y2="2042.8" stroke="#111" stroke-width="4.5"/>
<text x="219" y="2058.3" font-size="44" text-anchor="end" fill="#1a1a1a">1.00</text>
<line x1="325" y1="2336" x2="325" y2="2358" stroke="#111" stroke-width="4.5"/>
<line x1="414.2" y1="2336" x2="414.2" y2="2358" stroke="#111" stroke-width="4.5"/>
<line x1="503.5" y1="2336" x2="503.5" y2="2358" stroke="#111" stroke-width="4.5"/>
<line x1="592.7" y1="2336" x2="592.7" y2="2358" stroke="#111" stroke-width="4.5"/>
<line x1="682" y1="2336" x2="682" y2="2358" stroke="#111" stroke-width="4.5"/>
<line x1="771.2" y1="2336" x2="771.2" y2="2358" stroke="#111" stroke-width="4.5"/>
<line x1="860.4" y1="2336" x2="860.4" y2="2358" stroke="#111" stroke-width="4.5"/>
<line x1="949.7" y1="2336" x2="949.7" y2="2358" stroke="#111" stroke-width="4.5"/>
<line x1="1038.9" y1="2336" x2="1038.9" y2="2358" stroke="#111" stroke-width="4.5"/>
<line x1="1128.2" y1="2336" x2="1128.2" y2="2358" stroke="#111" stroke-width="4.5"/>
<line x1="1217.4" y1="2336" x2="1217.4" y2="2358" stroke="#111" stroke-width="4.5"/>
<line x1="1306.6" y1="2336" x2="1306.6" y2="2358" stroke="#111" stroke-width="4.5"/>
<line x1="1395.9" y1="2336" x2="1395.9" y2="2358" stroke="#111" stroke-width="4.5"/>
<line x1="1485.1" y1="2336" x2="1485.1" y2="2358" stroke="#111" stroke-width="4.5"/>
<line x1="1574.4" y1="2336" x2="1574.4" y2="2358" stroke="#111" stroke-width="4.5"/>
<line x1="1663.6" y1="2336" x2="1663.6" y2="2358" stroke="#111" stroke-width="4.5"/>
<line x1="1752.8" y1="2336" x2="1752.8" y2="2358" stroke="#111" stroke-width="4.5"/>
<line x1="1842.1" y1="2336" x2="1842.1" y2="2358" stroke="#111" stroke-width="4.5"/>
<line x1="1931.3" y1="2336" x2="1931.3" y2="2358" stroke="#111" stroke-width="4.5"/>
<line x1="2020.6" y1="2336" x2="2020.6" y2="2358" stroke="#111" stroke-width="4.5"/>
<line x1="2109.8" y1="2336" x2="2109.8" y2="2358" stroke="#111" stroke-width="4.5"/>
<text x="2209" y="2212" font-size="52" fill="#1a1a1a">Cdc5</text>
<rect x="291" y="2691.7" width="68" height="5.8" fill="#00ffff" stroke="#111" stroke-width="4"/>
<rect x="380.2" y="2688.7" width="68" height="8.8" fill="#00ffff" stroke="#111" stroke-width="4"/>
<rect x="469.5" y="2685.8" width="68" height="11.7" fill="#00ffff" stroke="#111" stroke-width="4"/>
<rect x="558.7" y="2681.4" width="68" height="16.1" fill="#00ffff" stroke="#111" stroke-width="4"/>
<rect x="648" y="2577.8" width="68" height="119.7" fill="#00ffff" stroke="#111" stroke-width="4"/>
<rect x="737.2" y="2407" width="68" height="290.5" fill="#00ffff" stroke="#111" stroke-width="4"/>
<rect x="826.4" y="2630.3" width="68" height="67.2" fill="#00ffff" stroke="#111" stroke-width="4"/>
<rect x="915.7" y="2682.9" width="68" height="14.6" fill="#1700ff" stroke="#111" stroke-width="4"/>
<rect x="1004.9" y="2682.9" width="68" height="14.6" fill="#1700ff" stroke="#111" stroke-width="4"/>
<rect x="1094.2" y="2682.9" width="68" height="14.6" fill="#1700ff" stroke="#111" stroke-width="4"/>
<rect x="1183.4" y="2680" width="68" height="17.5" fill="#1700ff" stroke="#111" stroke-width="4"/>
<rect x="1272.6" y="2649.3" width="68" height="48.2" fill="#1700ff" stroke="#111" stroke-width="4"/>
<rect x="1361.9" y="2561.7" width="68" height="135.8" fill="#1700ff" stroke="#111" stroke-width="4"/>
<rect x="1451.1" y="2624.5" width="68" height="73" fill="#1700ff" stroke="#111" stroke-width="4"/>
<rect x="1540.4" y="2682.9" width="68" height="14.6" fill="#000" stroke="#111" stroke-width="4"/>
<rect x="1629.6" y="2685.8" width="68" height="11.7" fill="#000" stroke="#111" stroke-width="4"/>
<rect x="1718.8" y="2678.5" width="68" height="19" fill="#000" stroke="#111" stroke-width="4"/>
<rect x="1808.1" y="2668.3" width="68" height="29.2" fill="#000" stroke="#111" stroke-width="4"/>
<rect x="1897.3" y="2498.9" width="68" height="198.6" fill="#000" stroke="#111" stroke-width="4"/>
<rect x="1986.6" y="2459.5" width="68" height="238" fill="#000" stroke="#111" stroke-width="4"/>
<rect x="2075.8" y="2634.7" width="68" height="62.8" fill="#000" stroke="#111" stroke-width="4"/>
<path d="M251.5 2697.5 V2376 H2191 V2697.5" fill="none" stroke="#111" stroke-width="4.5"/>
<line x1="228" y1="2697.5" x2="2193" y2="2697.5" stroke="#111" stroke-width="4.5"/>
<line x1="228" y1="2697.5" x2="252" y2="2697.5" stroke="#111" stroke-width="4.5"/>
<text x="219" y="2713" font-size="44" text-anchor="end" fill="#1a1a1a">0.00</text>
<line x1="228" y1="2624.5" x2="252" y2="2624.5" stroke="#111" stroke-width="4.5"/>
<text x="219" y="2640" font-size="44" text-anchor="end" fill="#1a1a1a">0.25</text>
<line x1="228" y1="2551.5" x2="252" y2="2551.5" stroke="#111" stroke-width="4.5"/>
<text x="219" y="2567" font-size="44" text-anchor="end" fill="#1a1a1a">0.50</text>
<line x1="228" y1="2478.5" x2="252" y2="2478.5" stroke="#111" stroke-width="4.5"/>
<text x="219" y="2494" font-size="44" text-anchor="end" fill="#1a1a1a">0.75</text>
<line x1="228" y1="2405.5" x2="252" y2="2405.5" stroke="#111" stroke-width="4.5"/>
<text x="219" y="2421" font-size="44" text-anchor="end" fill="#1a1a1a">1.00</text>
<line x1="325" y1="2697.5" x2="325" y2="2719.5" stroke="#111" stroke-width="4.5"/>
<line x1="414.2" y1="2697.5" x2="414.2" y2="2719.5" stroke="#111" stroke-width="4.5"/>
<line x1="503.5" y1="2697.5" x2="503.5" y2="2719.5" stroke="#111" stroke-width="4.5"/>
<line x1="592.7" y1="2697.5" x2="592.7" y2="2719.5" stroke="#111" stroke-width="4.5"/>
<line x1="682" y1="2697.5" x2="682" y2="2719.5" stroke="#111" stroke-width="4.5"/>
<line x1="771.2" y1="2697.5" x2="771.2" y2="2719.5" stroke="#111" stroke-width="4.5"/>
<line x1="860.4" y1="2697.5" x2="860.4" y2="2719.5" stroke="#111" stroke-width="4.5"/>
<line x1="949.7" y1="2697.5" x2="949.7" y2="2719.5" stroke="#111" stroke-width="4.5"/>
<line x1="1038.9" y1="2697.5" x2="1038.9" y2="2719.5" stroke="#111" stroke-width="4.5"/>
<line x1="1128.2" y1="2697.5" x2="1128.2" y2="2719.5" stroke="#111" stroke-width="4.5"/>
<line x1="1217.4" y1="2697.5" x2="1217.4" y2="2719.5" stroke="#111" stroke-width="4.5"/>
<line x1="1306.6" y1="2697.5" x2="1306.6" y2="2719.5" stroke="#111" stroke-width="4.5"/>
<line x1="1395.9" y1="2697.5" x2="1395.9" y2="2719.5" stroke="#111" stroke-width="4.5"/>
<line x1="1485.1" y1="2697.5" x2="1485.1" y2="2719.5" stroke="#111" stroke-width="4.5"/>
<line x1="1574.4" y1="2697.5" x2="1574.4" y2="2719.5" stroke="#111" stroke-width="4.5"/>
<line x1="1663.6" y1="2697.5" x2="1663.6" y2="2719.5" stroke="#111" stroke-width="4.5"/>
<line x1="1752.8" y1="2697.5" x2="1752.8" y2="2719.5" stroke="#111" stroke-width="4.5"/>
<line x1="1842.1" y1="2697.5" x2="1842.1" y2="2719.5" stroke="#111" stroke-width="4.5"/>
<line x1="1931.3" y1="2697.5" x2="1931.3" y2="2719.5" stroke="#111" stroke-width="4.5"/>
<line x1="2020.6" y1="2697.5" x2="2020.6" y2="2719.5" stroke="#111" stroke-width="4.5"/>
<line x1="2109.8" y1="2697.5" x2="2109.8" y2="2719.5" stroke="#111" stroke-width="4.5"/>
<text x="2218" y="2571.5" font-size="52" fill="#1a1a1a">Ndt80</text>
<text x="323" y="2772" font-size="44" text-anchor="middle" fill="#1a1a1a">0</text>
<text x="412.2" y="2772" font-size="44" text-anchor="middle" fill="#1a1a1a">15</text>
<text x="501.5" y="2772" font-size="44" text-anchor="middle" fill="#1a1a1a">20</text>
<text x="590.7" y="2772" font-size="44" text-anchor="middle" fill="#1a1a1a">24</text>
<text x="680" y="2772" font-size="44" text-anchor="middle" fill="#1a1a1a">38</text>
<text x="769.2" y="2772" font-size="44" text-anchor="middle" fill="#1a1a1a">48</text>
<text x="858.4" y="2772" font-size="44" text-anchor="middle" fill="#1a1a1a">62</text>
<text x="947.7" y="2772" font-size="44" text-anchor="middle" fill="#1a1a1a">0</text>
<text x="1036.9" y="2772" font-size="44" text-anchor="middle" fill="#1a1a1a">15</text>
<text x="1126.2" y="2772" font-size="44" text-anchor="middle" fill="#1a1a1a">20</text>
<text x="1215.4" y="2772" font-size="44" text-anchor="middle" fill="#1a1a1a">24</text>
<text x="1304.6" y="2772" font-size="44" text-anchor="middle" fill="#1a1a1a">38</text>
<text x="1393.9" y="2772" font-size="44" text-anchor="middle" fill="#1a1a1a">48</text>
<text x="1483.1" y="2772" font-size="44" text-anchor="middle" fill="#1a1a1a">62</text>
<text x="1572.4" y="2772" font-size="44" text-anchor="middle" fill="#1a1a1a">0</text>
<text x="1661.6" y="2772" font-size="44" text-anchor="middle" fill="#1a1a1a">15</text>
<text x="1750.8" y="2772" font-size="44" text-anchor="middle" fill="#1a1a1a">20</text>
<text x="1840.1" y="2772" font-size="44" text-anchor="middle" fill="#1a1a1a">24</text>
<text x="1929.3" y="2772" font-size="44" text-anchor="middle" fill="#1a1a1a">38</text>
<text x="2018.6" y="2772" font-size="44" text-anchor="middle" fill="#1a1a1a">48</text>
<text x="2107.8" y="2772" font-size="44" text-anchor="middle" fill="#1a1a1a">62</text>
<text x="1222" y="2852" font-size="51.5" text-anchor="middle" fill="#1a1a1a">Time in meiosis (h)</text>
<text transform="translate(87.5,2364) rotate(-90)" font-size="53" text-anchor="middle" fill="#1a1a1a">Relative protein levels</text>
</svg>
</body></html>
